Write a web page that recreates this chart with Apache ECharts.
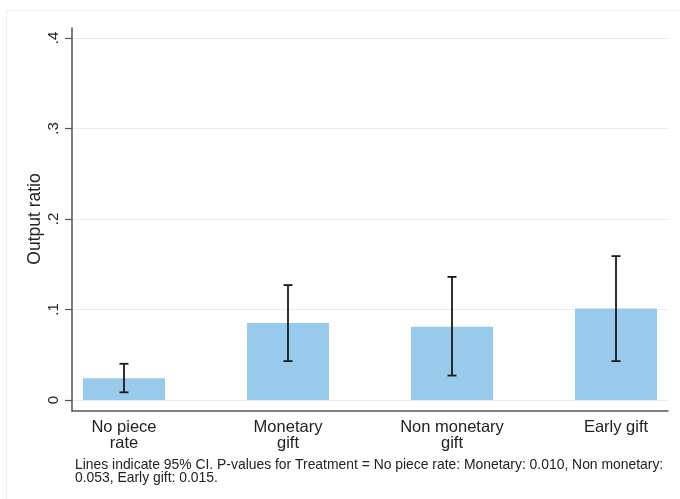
<!DOCTYPE html>
<html>
<head>
<meta charset="utf-8">
<script src="https://cdn.jsdelivr.net/npm/echarts@6/dist/echarts.min.js"></script>
<style>
  html, body { margin: 0; padding: 0; background: #fff; overflow: hidden; }
  #frame { position: absolute; left: 6px; top: 10px; width: 800px; height: 600px; border: 1px solid #e8f0f0; pointer-events: none; }
  #chart { position: absolute; left: 0; top: 0; width: 680px; height: 499px; }
</style>
</head>
<body>
<div id="frame"></div>
<div id="chart"></div>
<script>
const categories = ['No piece\nrate', 'Monetary\ngift', 'Non monetary\ngift', 'Early gift'];
const means = [0.024, 0.085, 0.081, 0.101];
const ciLow = [0.0085, 0.043, 0.027, 0.043];
const ciHigh = [0.040, 0.127, 0.136, 0.159];
const yTicks = [0, 0.1, 0.2, 0.3, 0.4];
const yTitle = 'Output ratio';
const footnote = 'Lines indicate 95% CI. P-values for Treatment = No piece rate: Monetary: 0.010, Non monetary:\n0.053, Early gift: 0.015.';

const FONT = 'Liberation Sans, Arial, sans-serif';
const xMin = -0.317, xMax = 3.317;

const chart = echarts.init(document.getElementById('chart'), null, { renderer: 'canvas' });
chart.setOption({
  animation: false,
  backgroundColor: 'transparent',
  textStyle: { fontFamily: FONT },
  title: {
    text: footnote,
    left: 70, top: 454,
    textStyle: { fontFamily: FONT, fontSize: 13.9, fontWeight: 'normal', color: '#222', lineHeight: 13 }
  },
  grid: [
    { left: 72, right: 12, top: 38, bottom: 99 },
    { left: 72, right: 12, top: 28, bottom: 88 }
  ],
  xAxis: [
    { gridIndex: 0, type: 'value', min: xMin, max: xMax, show: false },
    {
      gridIndex: 1, type: 'value', min: xMin, max: xMax,
      axisLine: { show: true, onZero: false, lineStyle: { color: '#555', width: 1.5 } },
      axisTick: { show: false },
      splitLine: { show: false },
      axisLabel: {
        customValues: categories.map((c, i) => i),
        formatter: v => categories[Math.round(v)],
        fontFamily: FONT, fontSize: 16.5, color: '#222', lineHeight: 16, margin: 8
      }
    }
  ],
  yAxis: [
    {
      gridIndex: 0, type: 'value', min: yTicks[0], max: yTicks[yTicks.length - 1], interval: 0.1,
      axisLine: { show: false, onZero: false },
      axisTick: { show: true, length: 7, lineStyle: { color: '#555', width: 1.2 } },
      axisLabel: {
        rotate: 90, margin: 11, fontFamily: FONT, fontSize: 15, color: '#222',
        formatter: v => v === 0 ? '0' : String(+v.toFixed(1)).replace(/^0/, '')
      },
      splitLine: { show: true, lineStyle: { color: '#e4eef1', width: 1 } },
      name: yTitle, nameLocation: 'middle', nameGap: 28, nameMoveOverlap: false,
      nameTextStyle: { fontFamily: FONT, fontSize: 17.5, color: '#222' }
    },
    {
      gridIndex: 1, type: 'value', min: 0, max: 1,
      axisLine: { show: true, onZero: false, lineStyle: { color: '#555', width: 1.5 } },
      axisTick: { show: false }, axisLabel: { show: false }, splitLine: { show: false }
    }
  ],
  series: [
    {
      type: 'bar', xAxisIndex: 0, yAxisIndex: 0,
      barWidth: 82, z: 2,
      itemStyle: { color: '#98cbeb' },
      data: means.map((v, i) => [i, v])
    },
    {
      type: 'custom', xAxisIndex: 0, yAxisIndex: 0, z: 5,
      data: ciLow.map((l, i) => [i, l, ciHigh[i]]),
      renderItem: function (params, api) {
        const x = api.value(0);
        const lo = api.coord([x, api.value(1)]);
        const hi = api.coord([x, api.value(2)]);
        const cap = 4.5;
        const style = { stroke: '#1a1a1a', lineWidth: 1.8 };
        return {
          type: 'group',
          children: [
            { type: 'line', shape: { x1: lo[0], y1: lo[1], x2: hi[0], y2: hi[1] }, style: style },
            { type: 'line', shape: { x1: lo[0] - cap, y1: lo[1], x2: lo[0] + cap, y2: lo[1] }, style: style },
            { type: 'line', shape: { x1: hi[0] - cap, y1: hi[1], x2: hi[0] + cap, y2: hi[1] }, style: style }
          ]
        };
      }
    }
  ]
});
</script>
</body>
</html>
